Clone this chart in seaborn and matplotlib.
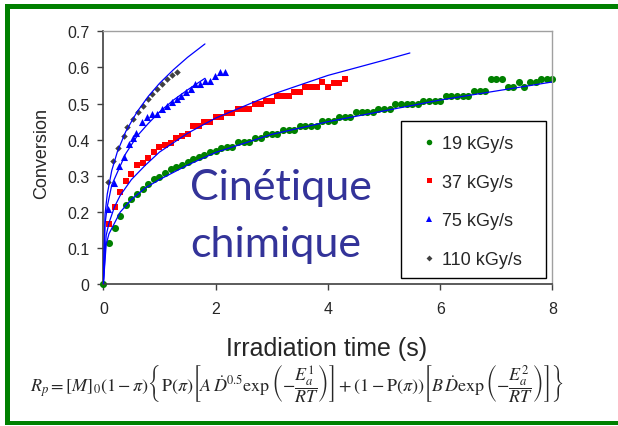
import matplotlib
matplotlib.use('Agg')
import matplotlib.pyplot as plt
import seaborn as sns
import pandas as pd
from matplotlib.lines import Line2D
from matplotlib.patches import Rectangle

sns.set_style('ticks')
plt.rcParams['font.family'] = ['Liberation Sans', 'DejaVu Sans']
plt.rcParams['mathtext.fontset'] = 'stix'

# measured conversion, 19 kGy/s
t19 = [0, 0.1, 0.2, 0.3, 0.4, 0.5, 0.6, 0.7, 0.8, 0.9, 1.0, 1.1, 1.2, 1.3, 1.4, 1.5, 1.6, 1.7, 1.8, 1.9,
       2.0, 2.1, 2.2, 2.3, 2.4, 2.5, 2.6, 2.7, 2.8, 2.9, 3.0, 3.1, 3.2, 3.3, 3.4, 3.5, 3.6, 3.7, 3.8, 3.9,
       4.0, 4.1, 4.2, 4.3, 4.4, 4.5, 4.6, 4.7, 4.8, 4.9, 5.0, 5.1, 5.2, 5.3, 5.4, 5.5, 5.6, 5.7, 5.8, 5.9,
       6.0, 6.1, 6.2, 6.3, 6.4, 6.5, 6.6, 6.7, 6.8, 6.9, 7.0, 7.1, 7.2, 7.3, 7.4, 7.5, 7.6, 7.7, 7.8, 7.9, 8.0]
c19 = [0, 0.115, 0.155, 0.19, 0.22, 0.237, 0.25, 0.263, 0.279, 0.292, 0.297, 0.308, 0.319, 0.325, 0.331,
       0.338, 0.347, 0.352, 0.358, 0.367, 0.37, 0.377, 0.379, 0.379, 0.393, 0.393, 0.393, 0.405, 0.405,
       0.416, 0.416, 0.416, 0.428, 0.428, 0.428, 0.439, 0.439, 0.439, 0.439, 0.451, 0.451, 0.451, 0.462,
       0.462, 0.462, 0.476, 0.476, 0.476, 0.476, 0.485, 0.485, 0.485, 0.499, 0.499, 0.499, 0.499, 0.499,
       0.508, 0.508, 0.508, 0.508, 0.522, 0.522, 0.522, 0.522, 0.522, 0.534, 0.534, 0.534, 0.568, 0.568,
       0.568, 0.545, 0.545, 0.559, 0.545, 0.559, 0.559, 0.568, 0.568, 0.568]

# 37 kGy/s
t37 = [0.1, 0.2, 0.3, 0.4, 0.5, 0.6, 0.7, 0.8, 0.9, 1.0, 1.1, 1.2, 1.3, 1.4, 1.5, 1.6, 1.7, 1.8, 1.9, 2.0,
       2.1, 2.2, 2.3, 2.4, 2.5, 2.6, 2.7, 2.8, 2.9, 3.0, 3.1, 3.2, 3.3, 3.4, 3.5, 3.6, 3.7, 3.8, 3.9, 4.0,
       4.1, 4.2, 4.3]
c37 = [0.167, 0.213, 0.255, 0.285, 0.305, 0.33, 0.335, 0.35, 0.365, 0.379, 0.385, 0.391, 0.404, 0.41,
       0.416, 0.437, 0.437, 0.45, 0.45, 0.462, 0.462, 0.474, 0.474, 0.485, 0.485, 0.485, 0.499, 0.499,
       0.508, 0.508, 0.522, 0.522, 0.522, 0.533, 0.533, 0.545, 0.545, 0.545, 0.559, 0.545, 0.557, 0.557, 0.568]

# 75 kGy/s
t75 = [0.09, 0.19, 0.28, 0.36, 0.45, 0.52, 0.59, 0.68, 0.77, 0.86, 0.95, 1.04, 1.13, 1.22, 1.31, 1.38,
       1.47, 1.56, 1.64, 1.72, 1.81, 1.9, 1.99, 2.08, 2.17]
c75 = [0.21, 0.28, 0.328, 0.352, 0.388, 0.405, 0.42, 0.448, 0.462, 0.471, 0.471, 0.485, 0.494, 0.504,
       0.513, 0.522, 0.531, 0.54, 0.554, 0.554, 0.563, 0.563, 0.577, 0.588, 0.588]

# 110 kGy/s
t110 = [0.09, 0.18, 0.27, 0.36, 0.43, 0.52, 0.61, 0.7, 0.79, 0.86, 0.95, 1.04, 1.13, 1.22, 1.31]
c110 = [0.283, 0.342, 0.377, 0.41, 0.435, 0.458, 0.476, 0.494, 0.513, 0.527, 0.54, 0.554, 0.568, 0.579, 0.588]

# model curves (blue)
fit19_t = [0, 0.05, 0.1, 0.2, 0.3, 0.5, 0.75, 1, 1.5, 2, 3, 4, 5, 6, 7, 8]
fit19_c = [0, 0.11, 0.14, 0.17, 0.20, 0.235, 0.267, 0.29, 0.33, 0.365, 0.415, 0.45, 0.48, 0.51, 0.535, 0.56]
fit37_t = [0, 0.05, 0.1, 0.2, 0.3, 0.5, 0.75, 1, 1.5, 2, 3, 4, 5, 5.46]
fit37_c = [0, 0.135, 0.17, 0.215, 0.246, 0.29, 0.33, 0.366, 0.418, 0.46, 0.525, 0.578, 0.62, 0.64]
fit75_t = [0, 0.03, 0.07, 0.15, 0.25, 0.4, 0.6, 0.8, 1, 1.25, 1.5, 1.81]
fit75_c = [0, 0.167, 0.215, 0.275, 0.31, 0.362, 0.41, 0.445, 0.477, 0.51, 0.538, 0.57]
fit110_t = [0, 0.03, 0.07, 0.15, 0.25, 0.4, 0.6, 0.8, 1, 1.25, 1.5, 1.81]
fit110_c = [0, 0.194, 0.25, 0.315, 0.367, 0.423, 0.477, 0.52, 0.556, 0.594, 0.628, 0.665]

labels = ['19 kGy/s', '37 kGy/s', '75 kGy/s', '110 kGy/s']
xticks = [0, 2, 4, 6, 8]
yticks = [0, 0.1, 0.2, 0.3, 0.4, 0.5, 0.6, 0.7]
ytick_labels = ['0', '0.1', '0.2', '0.3', '0.4', '0.5', '0.6', '0.7']

series = [(t19, c19, '#008000', 'o', 26),
          (t37, c37, '#ff0000', 's', 18),
          (t75, c75, '#0000ff', '^', 26),
          (t110, c110, '#404040', 'D', 11)]
fits = [(fit19_t, fit19_c), (fit37_t, fit37_c), (fit75_t, fit75_c), (fit110_t, fit110_c)]

fig = plt.figure(figsize=(6.18, 4.27), dpi=100)
ax = fig.add_axes([0.1672, 0.3314, 0.7268, 0.593])

for (t, c, col, mk, s), lab in zip(series, labels):
    df = pd.DataFrame({'t': t, 'c': c})
    sns.scatterplot(data=df, x='t', y='c', color=col, marker=mk, s=s,
                    linewidth=0, ax=ax, clip_on=False, zorder=2)

for ft, fc in fits:
    dff = pd.DataFrame({'t': ft, 'c': fc})
    sns.lineplot(data=dff, x='t', y='c', color='#0000ff', lw=0.9,
                 estimator=None, sort=False, ax=ax, zorder=3)

ax.set_xlim(0, 8)
ax.set_ylim(0, 0.7)
ax.set_xticks(xticks)
ax.set_xticklabels([str(v) for v in xticks])
ax.set_yticks(yticks)
ax.set_yticklabels(ytick_labels)
ax.tick_params(direction='out', length=4, width=1, labelsize=11.5, color='#404040')
ax.tick_params(axis='x', pad=8)
ax.tick_params(axis='y', pad=6)
for side in ['left', 'bottom']:
    ax.spines[side].set_color('#404040')
    ax.spines[side].set_linewidth(1.2)
for side in ['top', 'right']:
    ax.spines[side].set_color('#a0a0a0')
    ax.spines[side].set_linewidth(1)

ax.set_xlabel('Irradiation time (s)', fontsize=18)
ax.xaxis.set_label_coords(0.496, -0.205)
ax.set_ylabel('Conversion', fontsize=13)
ax.yaxis.set_label_coords(-0.119, 0.52)

# legend box
ax.add_patch(Rectangle((0.662, 0.026), 0.323, 0.621, transform=ax.transAxes,
                       facecolor='white', edgecolor='black', lw=1, zorder=4.5))
handles = [Line2D([], [], color=col, marker=mk, linestyle='none', markersize=ms, markeredgewidth=0)
           for (col, mk, ms) in [('#008000', 'o', 4), ('#ff0000', 's', 3.6),
                                 ('#0000ff', '^', 4.4), ('#404040', 'D', 3)]]
leg = ax.legend(handles, labels, loc='upper left', bbox_to_anchor=(0.705, 0.59),
                frameon=False, fontsize=13, labelspacing=1.2, handlelength=1.0,
                handletextpad=0.2, borderpad=0, borderaxespad=0)
leg.set_zorder(5)

ax.text(1.544, 0.236, 'Cinétique', fontsize=31, color='#333399', family='Lato',
        ha='left', va='baseline', zorder=6)
ax.text(1.544, 0.079, 'chimique', fontsize=31, color='#333399', family='Lato',
        ha='left', va='baseline', zorder=6)

formula = (r'$R_p=\left[M\right]_0\left(1-\pi\right)\left\{\mathrm{P}(\pi)\left[A\,\dot{D}^{0.5}'
           r'\exp\left(-\dfrac{E_a^1}{RT}\right)\right]+\left(1-\mathrm{P}(\pi)\right)'
           r'\left[B\,\dot{D}\exp\left(-\dfrac{E_a^2}{RT}\right)\right]\right\}$')
fig.text(0.481, 0.1, formula, fontsize=13, ha='center', va='center')

# green frame
fig.add_artist(Rectangle((5 / 618, 1 - 10 / 427), 1, 5 / 427, transform=fig.transFigure,
                         facecolor='#008000', edgecolor='none'))
fig.add_artist(Rectangle((5 / 618, 1 - 426 / 427), 1, 4 / 427, transform=fig.transFigure,
                         facecolor='#008000', edgecolor='none'))
fig.add_artist(Rectangle((5 / 618, 1 - 426 / 427), 5 / 618, 421 / 427, transform=fig.transFigure,
                         facecolor='#008000', edgecolor='none'))

fig.savefig('out.png', dpi=100)
